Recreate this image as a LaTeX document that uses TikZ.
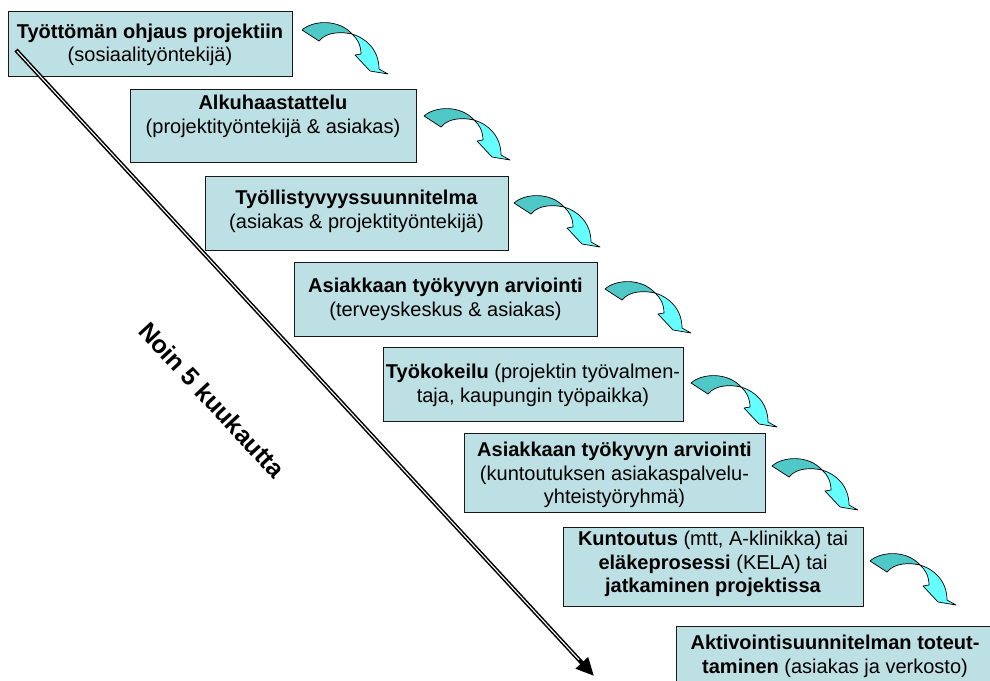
\documentclass[tikz,border=0pt]{standalone}
\usepackage{fontspec}
\setmainfont{Liberation Sans}
\usetikzlibrary{arrows.meta}
\definecolor{boxfill}{RGB}{188,224,228}
\definecolor{arrdark}{RGB}{78,201,199}
\definecolor{arrlight}{RGB}{102,255,255}
\tikzset{
  stepbox/.style={draw=black!90, line width=1.4pt, fill=boxfill, anchor=north west, inner sep=0pt},
  txt/.style={align=center, inner sep=0pt, font=\fontsize{20}{23.5}\selectfont},
  curvarrow/.pic={
    \fill[arrdark, draw=black, line width=0.7pt, line join=round]
      (-1,8) .. controls (10,-2) and (36,-3) .. (49,12)
      .. controls (40,10) and (24,9) .. (16,19) -- cycle;
    \fill[arrlight, draw=black, line width=0.7pt, line join=round]
      (49,12) .. controls (63,16) and (76,28) .. (76,47) -- (85,52) -- (67,49)
      -- (52,33) -- (58,32) .. controls (58,23) and (54,16) .. (49,12) -- cycle;
  }
}
\begin{document}
\begin{tikzpicture}[x=1pt,y=-1pt]
\useasboundingbox (0,0) rectangle (990,680);
\fill[white] (0,0) rectangle (990,680);

% boxes
\node[stepbox, minimum width=284pt, minimum height=65pt] (b1) at (8,11) {};
\node[stepbox, minimum width=286pt, minimum height=73pt] (b2) at (130,89) {};
\node[stepbox, minimum width=303pt, minimum height=74pt] (b3) at (205,176) {};
\node[stepbox, minimum width=303pt, minimum height=74pt] (b4) at (294,262) {};
\node[stepbox, minimum width=300pt, minimum height=74pt] (b5) at (383,347) {};
\node[stepbox, minimum width=301pt, minimum height=79pt] (b6) at (464,433) {};
\node[stepbox, minimum width=300pt, minimum height=79pt] (b7) at (563,527) {};
\node[stepbox, minimum width=318pt, minimum height=62pt] (b8) at (676,626) {};

% texts
\node[txt] (t1) at (150,45) {\textbf{Työttömän ohjaus projektiin}\\(sosiaalityöntekijä)};
\node[txt] (t2) at (273,116.5) {\textbf{Alkuhaastattelu}\\(projektityöntekijä \& asiakas)};
\node[txt] (t3) at (356.5,211.5) {\textbf{Työllistyvyyssuunnitelma}\\(asiakas \& projektityöntekijä)};
\node[txt] (t4) at (445.5,299.5) {\textbf{Asiakkaan työkyvyn arviointi}\\(terveyskeskus \& asiakas)};
\node[txt] (t5) at (533,385.5) {\textbf{Työkokeilu} (projektin työvalmen-\\taja, kaupungin työpaikka)};
\node[txt] (t6) at (614.5,475) {\textbf{Asiakkaan työkyvyn arviointi}\\(kuntoutuksen asiakaspalvelu-\\yhteistyöryhmä)};
\node[txt] (t7) at (713,564) {\textbf{Kuntoutus} (mtt, A-klinikka) tai\\\textbf{eläkeprosessi} (KELA) tai\\\textbf{jatkaminen projektissa}};
\node[txt] (t8) at (835,656.5) {\textbf{Aktivointisuunnitelman toteut-}\\\textbf{taminen} (asiakas ja verkosto)};

% curved arrows
\pic at (303,22) {curvarrow};
\pic at (425,108) {curvarrow};
\pic at (515,195) {curvarrow};
\pic at (606,281) {curvarrow};
\pic at (692,375) {curvarrow};
\pic at (773,458) {curvarrow};
\pic at (871,553) {curvarrow};

% long time arrow
\coordinate (ts) at (16,50);
\coordinate (te) at (594,676);
\draw[line width=4.2pt, -{Triangle[length=18pt,width=16pt]}] (ts) -- (te);
\draw[white, line width=1.1pt, shorten >=22pt, shorten <=1.5pt] (ts) -- (te);

\node[rotate=-47.3, inner sep=0pt, font=\bfseries\fontsize{25}{29}\selectfont] (lbl) at (212,400) {Noin 5 kuukautta};
\end{tikzpicture}
\end{document}
